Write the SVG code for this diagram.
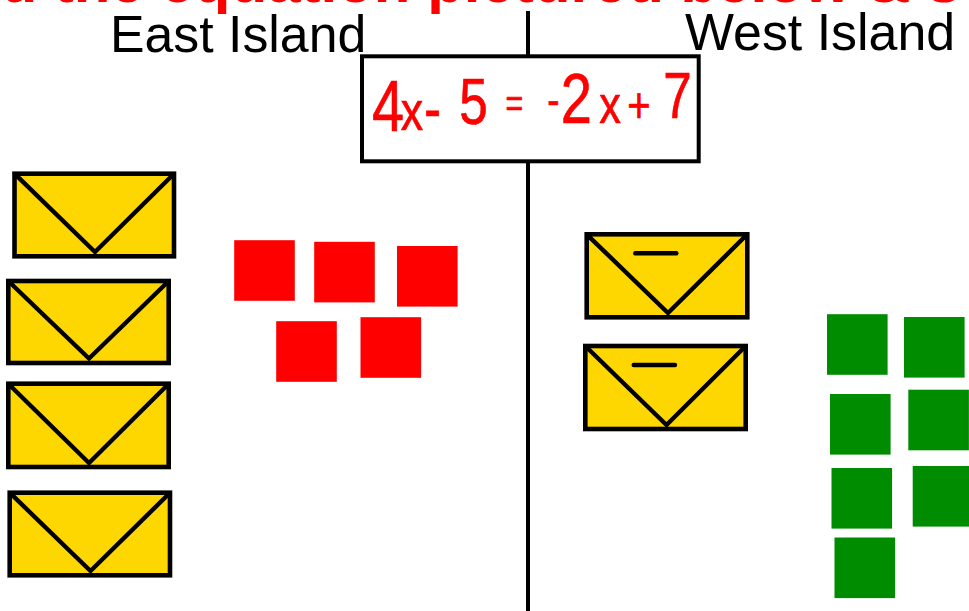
<svg xmlns="http://www.w3.org/2000/svg" width="969" height="611" viewBox="0 0 969 611">
<style>
.env{fill:#ffd700;stroke:#000;stroke-width:4.6}
.v{fill:none;stroke:#000;stroke-width:4.4;stroke-linejoin:miter}
.neg{stroke:#000;stroke-width:4.4;stroke-linecap:round}
.r{fill:#f00}.g{fill:#008c00}
.lbl{font-family:"Liberation Sans",Arial,sans-serif;fill:#000}
.eq{font-family:"Liberation Sans",Arial,sans-serif;fill:#f00;stroke:#f00;stroke-width:.7;stroke-linejoin:round}
.top{font-family:"Liberation Sans",Arial,sans-serif;font-weight:700;font-size:60px;fill:#f00}
</style>
<rect width="969" height="611" fill="#fff"/>
<text id="title" class="top" x="0.5" y="1.5">d the equation pictured below &amp; s</text>
<g id="connectors"><line x1="528" y1="11" x2="528" y2="611" stroke="#000" stroke-width="4"/></g>
<g id="east-label"><text class="lbl" x="110" y="52" font-size="51.8">East Island</text></g>
<g id="west-label"><text class="lbl" x="685" y="49.5" font-size="51.9">West Island</text></g>
<g id="equation-box">
<rect x="362" y="56.3" width="336.7" height="105" fill="#fff" stroke="#000" stroke-width="4"/>
<text class="eq" transform="scale(.8 1)"><tspan x="465" y="131" font-size="72">4</tspan><tspan x="501" y="130" font-size="56">x</tspan><tspan x="530" y="131" font-size="64">- </tspan><tspan x="574" y="124" font-size="64">5 </tspan><tspan x="632" y="117" font-size="38">= </tspan><tspan x="684" y="116.5" font-size="46">-</tspan><tspan x="701" y="123" font-size="70">2</tspan><tspan x="749" y="123" font-size="54">x</tspan><tspan x="784" y="122" font-size="50">+</tspan><tspan x="829" y="118" font-size="64">7</tspan></text>
</g>
<g id="east-x1"><rect class="env" x="14.5" y="173.7" width="159.5" height="82.6"/><path class="v" d="M14.5 173.7 95 252 174 173.7"/></g>
<g id="east-x2"><rect class="env" x="8.3" y="281" width="160.4" height="82"/><path class="v" d="M8.3 281 89 358.5 168.7 281"/></g>
<g id="east-x3"><rect class="env" x="8.3" y="383.7" width="160.4" height="83.3"/><path class="v" d="M8.3 383.7 89 463 168.7 383.7"/></g>
<g id="east-x4"><rect class="env" x="9.7" y="492.7" width="160.3" height="82.6"/><path class="v" d="M9.7 492.7 90.5 571 170 492.7"/></g>
<g id="west-neg-x1"><rect class="env" x="586.7" y="234.3" width="160.6" height="83"/><path class="v" d="M586.7 234.3 668 313 747.3 234.3"/><line class="neg" x1="635.3" y1="253.3" x2="676.3" y2="253.3"/></g>
<g id="west-neg-x2"><rect class="env" x="585.3" y="346" width="160.4" height="83"/><path class="v" d="M585.3 346 666.5 425 745.7 346"/><line class="neg" x1="633.7" y1="365" x2="675" y2="365"/></g>
<g id="red-1"><rect class="r" x="234.2" y="240.2" width="60.6" height="60.6"/></g>
<g id="red-2"><rect class="r" x="314.2" y="241.8" width="60.6" height="60.6"/></g>
<g id="red-3"><rect class="r" x="397" y="246" width="60.6" height="60.6"/></g>
<g id="red-4"><rect class="r" x="276.2" y="321.2" width="60.6" height="60.6"/></g>
<g id="red-5"><rect class="r" x="360.5" y="317.2" width="60.6" height="60.6"/></g>
<g id="green-1"><rect class="g" x="827" y="314.2" width="60.6" height="60.6"/></g>
<g id="green-2"><rect class="g" x="904" y="317" width="60.6" height="60.6"/></g>
<g id="green-3"><rect class="g" x="830" y="394" width="60.6" height="60.6"/></g>
<g id="green-4"><rect class="g" x="908.3" y="389.7" width="60.6" height="60.6"/></g>
<g id="green-5"><rect class="g" x="831.5" y="468" width="60.6" height="60.6"/></g>
<g id="green-6"><rect class="g" x="912.7" y="466" width="60.6" height="60.6"/></g>
<g id="green-7"><rect class="g" x="834.5" y="537.5" width="60.6" height="60.6"/></g>
</svg>
